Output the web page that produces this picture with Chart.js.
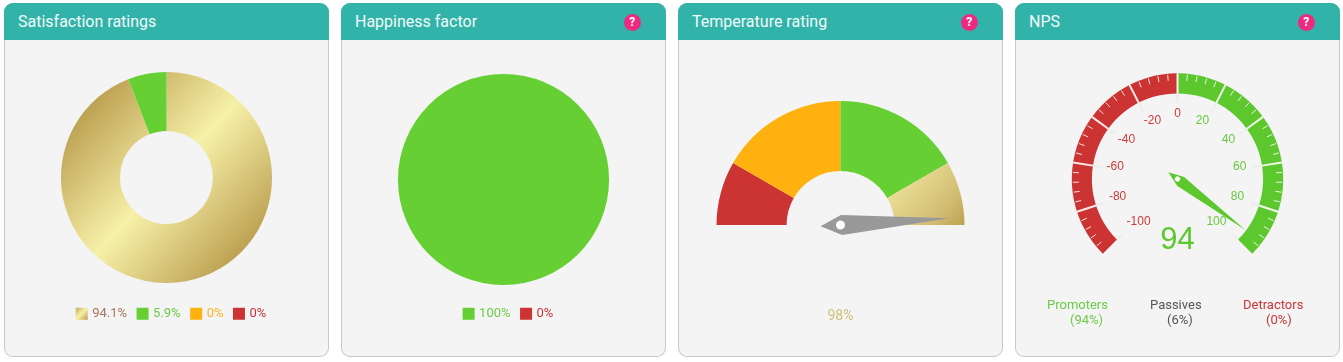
<!DOCTYPE html>
<html>
<head>
<meta charset="utf-8">
<title>Ratings</title>
<script src="https://cdn.jsdelivr.net/npm/chart.js@4/dist/chart.umd.min.js"></script>
<style>
  html, body { margin: 0; padding: 0; background: #fff; overflow: hidden; }
  body { width: 1343px; height: 362px; position: relative; font-family: Roboto, sans-serif; }
  .card { position: absolute; top: 3px; width: 325px; height: 354px; background: #f4f4f4; border-radius: 9px; box-shadow: inset 0 0 0 1px #c9c9c9; }
  .head { height: 37px; background: #31b3a9; border-radius: 9px 9px 0 0; color: #f1fbfa; font-size: 16px; line-height: 37px; padding-left: 14px; }
  .help { position: absolute; top: 10.5px; left: 282.5px; width: 17.5px; height: 17.5px; border-radius: 50%; background: #ee2a80; color: #fff; font-size: 12px; font-weight: 700; line-height: 17.5px; text-align: center; padding: 0; }
  canvas { position: absolute; left: 0; top: 37px; }
  .nps { position: absolute; font-size: 13px; line-height: 15px; white-space: nowrap; }
</style>
</head>
<body>
<div class="card" style="left:4px"><div class="head">Satisfaction ratings</div><canvas id="satisfaction" width="325" height="317"></canvas></div>
<div class="card" style="left:341px"><div class="head">Happiness factor<span class="help">?</span></div><canvas id="happiness" width="325" height="317"></canvas></div>
<div class="card" style="left:678px"><div class="head">Temperature rating<span class="help">?</span></div><canvas id="temperature" width="325" height="317"></canvas></div>
<div class="card" style="left:1015px"><div class="head">NPS<span class="help">?</span></div><canvas id="nps" width="325" height="317"></canvas></div>

<script>
const GOLD = 'gold', GREEN = '#66cf33', ORANGE = '#ffb20f', RED = '#cc3333';

const satisfactionLabels = ['94.1%', '5.9%', '0%', '0%'];
const satisfactionValues = [94.1, 5.9, 0, 0];
const satisfactionColors = [GOLD, GREEN, ORANGE, RED];
const satisfactionText = ['#a8755c', '#6ccb46', '#feb226', '#c9353a'];

const happinessLabels = ['100%', '0%'];
const happinessValues = [100, 0];
const happinessColors = [GREEN, RED];
const happinessText = ['#6ccb46', '#c9353a'];

// bands of the half gauge, left to right
const temperatureBands = [1, 2, 2, 1];
const temperatureColors = [RED, ORANGE, GREEN, GOLD];
const temperatureValue = 98;

const npsBands = [100, 100];
const npsColors = [RED, '#5cc82e'];
const npsTicks = [-100, -80, -60, -40, -20, 0, 20, 40, 60, 80, 100];
const npsValue = 94;
const npsMin = -100;
const npsMax = 100;
const npsLegend = ['Promoters', 'Passives', 'Detractors'];
const npsPercent = ['(94%)', '(6%)', '(0%)'];

Chart.defaults.font.family = 'Roboto';
Chart.defaults.animation = false;
Chart.defaults.plugins.tooltip.enabled = false;

// gold diagonal fill, runs across the arc centre
function goldFill(c, stops, spread) {
  const arc = c.chart.getDatasetMeta(0).data[0];
  if (!arc || !arc.outerRadius) return '#d8c77f';
  const r = arc.outerRadius * spread;
  const g = c.chart.ctx.createLinearGradient(arc.x - r * 0.74, arc.y - r * 0.68, arc.x + r * 0.74, arc.y + r * 0.68);
  stops.forEach((s, i) => g.addColorStop(i / (stops.length - 1), s));
  return g;
}

function arcColors(colors, stops, spread) {
  return c => {
    const col = colors[c.dataIndex];
    return col === GOLD ? goldFill(c, stops, spread) : col;
  };
}

// the box is 8px with a 4px stroke so the text sits 4px from a 12px swatch
function legendOf(labels, colors, textColors) {
  return {
    position: 'bottom',
    labels: {
      boxWidth: 8,
      boxHeight: 8,
      padding: 11.5,
      font: { size: 13 },
      generateLabels() {
        return labels.map((text, i) => {
          const fill = colors[i] === GOLD ? '#d8c77f' : colors[i];
          return { text, fillStyle: fill, strokeStyle: fill, lineWidth: 4, fontColor: textColors[i], index: i };
        });
      }
    }
  };
}

// moves the legend without moving the arcs, paints the gold swatch
const legendNudge = {
  id: 'legendNudge',
  afterLayout(chart, args, opts) {
    const legend = chart.legend;
    legend.left += opts.shiftX;
    legend.right += opts.shiftX;
    legend.top += opts.shiftY;
    legend.bottom += opts.shiftY;
  },
  beforeDraw(chart, args, opts) {
    const legend = chart.legend;
    const hit = legend.legendHitBoxes[0];
    legend.legendItems.forEach((item, i) => {
      if (opts.colors[i] !== GOLD) return;
      const g = chart.ctx.createLinearGradient(hit.left - 2, hit.top, hit.left + 10, hit.top + 12);
      g.addColorStop(0, '#c3a657');
      g.addColorStop(0.5, '#f6f1a8');
      g.addColorStop(1, '#bd9d4d');
      item.fillStyle = g;
      item.strokeStyle = g;
    });
  }
};

const goldRing = ['#b8994a', '#f6f1a8', '#b8994a'];
const goldWedge = ['#f1e8a0', '#f1e8a0', '#f1e8a0', '#d3bf74', '#a08030'];

new Chart(document.getElementById('satisfaction'), {
  type: 'doughnut',
  data: { labels: satisfactionLabels, datasets: [{ data: satisfactionValues, backgroundColor: arcColors(satisfactionColors, goldRing, 1.1), borderWidth: 0 }] },
  options: {
    responsive: false,
    cutout: '44%',
    layout: { padding: { left: 20, right: 20, top: 32, bottom: 39.4 } },
    plugins: {
      legend: legendOf(satisfactionLabels, satisfactionColors, satisfactionText),
      legendNudge: { shiftX: 5.5, shiftY: 12.7, colors: satisfactionColors }
    }
  },
  plugins: [legendNudge]
});

new Chart(document.getElementById('happiness'), {
  type: 'pie',
  data: { labels: happinessLabels, datasets: [{ data: happinessValues, backgroundColor: happinessColors, borderWidth: 0 }] },
  options: {
    responsive: false,
    layout: { padding: { left: 20, right: 20, top: 34, bottom: 37.4 } },
    plugins: {
      legend: legendOf(happinessLabels, happinessColors, happinessText),
      legendNudge: { shiftX: 5.5, shiftY: 10.7, colors: happinessColors }
    }
  },
  plugins: [legendNudge]
});

// pointer with a white hub; angle is taken from the arc the library laid out
function needle(ctx, arc, angle, len, tail, half, shoulder, color, hub) {
  ctx.save();
  ctx.translate(arc.x, arc.y);
  ctx.rotate(angle);
  ctx.fillStyle = color;
  ctx.beginPath();
  ctx.moveTo(-tail, 0);
  ctx.lineTo(shoulder, -half);
  ctx.lineTo(len, 0);
  ctx.lineTo(shoulder, half);
  ctx.closePath();
  ctx.fill();
  ctx.fillStyle = '#fff';
  ctx.beginPath();
  ctx.arc(0, 0, hub, 0, Math.PI * 2);
  ctx.fill();
  ctx.restore();
}

const temperatureNeedle = {
  id: 'temperatureNeedle',
  afterDatasetsDraw(chart) {
    const arc = chart.getDatasetMeta(0).data[0];
    const ctx = chart.ctx;
    needle(ctx, arc, Math.PI + Math.PI * temperatureValue / 100, 109, 20, 10, 1, '#999999', 4.5);
    ctx.fillStyle = '#d1bf77';
    ctx.font = '14px Roboto';
    ctx.textAlign = 'center';
    ctx.textBaseline = 'middle';
    ctx.fillText(temperatureValue + '%', arc.x, arc.y + 91);
  }
};

new Chart(document.getElementById('temperature'), {
  type: 'doughnut',
  data: { datasets: [{ data: temperatureBands, backgroundColor: arcColors(temperatureColors, goldWedge, 1), borderWidth: 0 }] },
  options: {
    responsive: false,
    rotation: -90,
    circumference: 180,
    cutout: '43.5%',
    layout: { padding: { left: 38.5, right: 38.5, top: 61, bottom: 132 } },
    plugins: { legend: { display: false } }
  },
  plugins: [temperatureNeedle]
});

const npsDial = {
  id: 'npsDial',
  afterDatasetsDraw(chart) {
    const arc = chart.getDatasetMeta(0).data[0];
    const ctx = chart.ctx;
    const start = -Math.PI * 0.75;
    const sweep = Math.PI * 1.5;
    const angleOf = v => start + (v - npsMin) / (npsMax - npsMin) * sweep;
    const R = arc.outerRadius, r = arc.innerRadius;
    const radial = (a, from, to) => {
      ctx.beginPath();
      ctx.moveTo(arc.x + Math.sin(a) * from, arc.y - Math.cos(a) * from);
      ctx.lineTo(arc.x + Math.sin(a) * to, arc.y - Math.cos(a) * to);
      ctx.stroke();
    };
    npsTicks.forEach((t, i) => {
      const a = angleOf(t);
      ctx.strokeStyle = '#ececec';
      ctx.lineWidth = 2;
      radial(a, r - 9, r);
      if (i > 0 && i < npsTicks.length - 1) {
        ctx.strokeStyle = 'rgba(255,255,255,0.9)';
        radial(a, r, R);
      }
      if (i < npsTicks.length - 1) {
        ctx.strokeStyle = 'rgba(255,255,255,0.85)';
        ctx.lineWidth = 1;
        for (let m = 1; m < 5; m++) {
          radial(a + (angleOf(npsTicks[i + 1]) - a) * m / 5, R - 7, R - 1);
        }
      }
      // the outer pair of label rings sit closer in horizontally
      const rx = Math.abs(t) === 20 || Math.abs(t) === 100 ? 55 : 63;
      ctx.fillStyle = t <= 0 ? '#cc3b3b' : '#68c83f';
      ctx.font = '12px "Liberation Sans"';
      ctx.textAlign = 'center';
      ctx.textBaseline = 'middle';
      ctx.fillText(String(t), arc.x + Math.sin(a) * rx, arc.y - Math.cos(a) * 63 - 2);
    });
    needle(ctx, arc, angleOf(npsValue) - Math.PI / 2, 84.6, 11.4, 5.6, 4, '#5cc82e', 2.6);
    ctx.fillStyle = '#5cc82e';
    ctx.font = '31px "Liberation Sans"';
    ctx.textAlign = 'center';
    ctx.textBaseline = 'middle';
    ctx.fillText(String(npsValue), arc.x, arc.y + 61);
  }
};

new Chart(document.getElementById('nps'), {
  type: 'doughnut',
  data: { datasets: [{ data: npsBands, backgroundColor: npsColors, borderWidth: 0 }] },
  options: {
    responsive: false,
    rotation: -135,
    circumference: 270,
    cutout: '81%',
    layout: { padding: { left: 56.8, right: 56.8, top: 33.3, bottom: 103.2 } },
    plugins: { legend: { display: false } }
  },
  plugins: [npsDial]
});

// text block under the NPS dial
const npsLegendX = [1047, 1150, 1243];
const npsPercentX = [1070, 1167, 1266];
const npsLegendColors = ['#6ccb46', '#555555', '#c9353a'];
npsLegend.forEach((name, i) => {
  const a = document.createElement('div');
  a.className = 'nps';
  a.style.cssText = `left:${npsLegendX[i]}px;top:297px;color:${npsLegendColors[i]}`;
  a.textContent = name;
  document.body.appendChild(a);
  const b = document.createElement('div');
  b.className = 'nps';
  b.style.cssText = `left:${npsPercentX[i]}px;top:312px;color:${npsLegendColors[i]}`;
  b.textContent = npsPercent[i];
  document.body.appendChild(b);
});
</script>
</body>
</html>
